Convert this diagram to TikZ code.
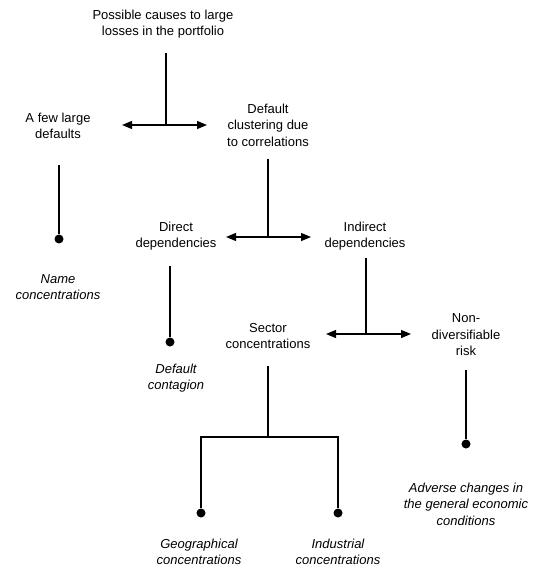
\documentclass[tikz,border=0pt]{standalone}
\usepackage{fontspec}
\setmainfont{Liberation Sans}
\usetikzlibrary{arrows.meta}
\tikzset{
lbl/.style={
  align=center,
  inner sep=0pt,
  font=\fontsize{13}{16.5}\selectfont
  },
res/.style={
  lbl,
  font=\fontsize{13}{16.5}\selectfont\itshape
  },
dot/.style={
  circle,
  inner sep=0pt,
  minimum size=9pt,
  fill=black
  }
}

\begin{document}
\begin{tikzpicture}[x=1pt,y=-1pt,line width=1.2pt,>={Triangle[length=10pt,width=8pt]}]
        \useasboundingbox (0,0) rectangle (534,567);
        % texts
        \node[lbl] at (163,24) (top) {Possible causes to large\\losses in the portfolio};
        \node[lbl] at (58,126) (few) {A few large\\defaults};
        \node[lbl] at (268,125) (clust) {Default\\clustering due\\to correlations};
        \node[res] at (58,287) (name) {Name\\concentrations};
        \node[lbl] at (176,236) (direct) {Direct\\dependencies};
        \node[lbl] at (365,236) (indirect) {Indirect\\dependencies};
        \node[res] at (176,378) (contag) {Default\\contagion};
        \node[lbl] at (268,336) (sector) {Sector\\concentrations};
        \node[lbl] at (466,335) (nondiv) {Non-\\diversifiable\\risk};
        \node[res] at (199,552) (geo) {Geographical\\concentrations};
        \node[res] at (338,552) (ind) {Industrial\\concentrations};
        \node[res] at (466,504) (adverse) {Adverse changes in\\the general economic\\conditions};
        % end points
        \coordinate (t0) at (166,53);
        \coordinate (j1) at (166,125);
        \coordinate (j1l) at (122,125);
        \coordinate (j1r) at (207,125);
        \coordinate (f0) at (59,165);
        \node[dot] at (59,239) (fd) {};
        \coordinate (c0) at (268,159);
        \coordinate (j2) at (268,237);
        \coordinate (j2l) at (226,237);
        \coordinate (j2r) at (311,237);
        \coordinate (d0) at (170,266);
        \node[dot] at (170,342) (dd) {};
        \coordinate (i0) at (366,258);
        \coordinate (j3) at (366,334);
        \coordinate (j3l) at (326,334);
        \coordinate (j3r) at (411,334);
        \coordinate (s0) at (268,366);
        \coordinate (j4) at (268,437);
        \coordinate (j4l) at (201,437);
        \coordinate (j4r) at (338,437);
        \node[dot] at (201,513) (gd) {};
        \node[dot] at (338,513) (id) {};
        \coordinate (n0) at (466,370);
        \node[dot] at (466,444) (nd) {};
        % connectors
        \draw (t0) -- (j1);
        \draw[<->] (j1l) -- (j1r);
        \draw (f0) -- (fd);
        \draw (c0) -- (j2);
        \draw[<->] (j2l) -- (j2r);
        \draw (d0) -- (dd);
        \draw (i0) -- (j3);
        \draw[<->] (j3l) -- (j3r);
        \draw (s0) -- (j4);
        \draw (gd) -- (j4l) -- (j4r) -- (id);
        \draw (n0) -- (nd);
    \end{tikzpicture}
\end{document}
